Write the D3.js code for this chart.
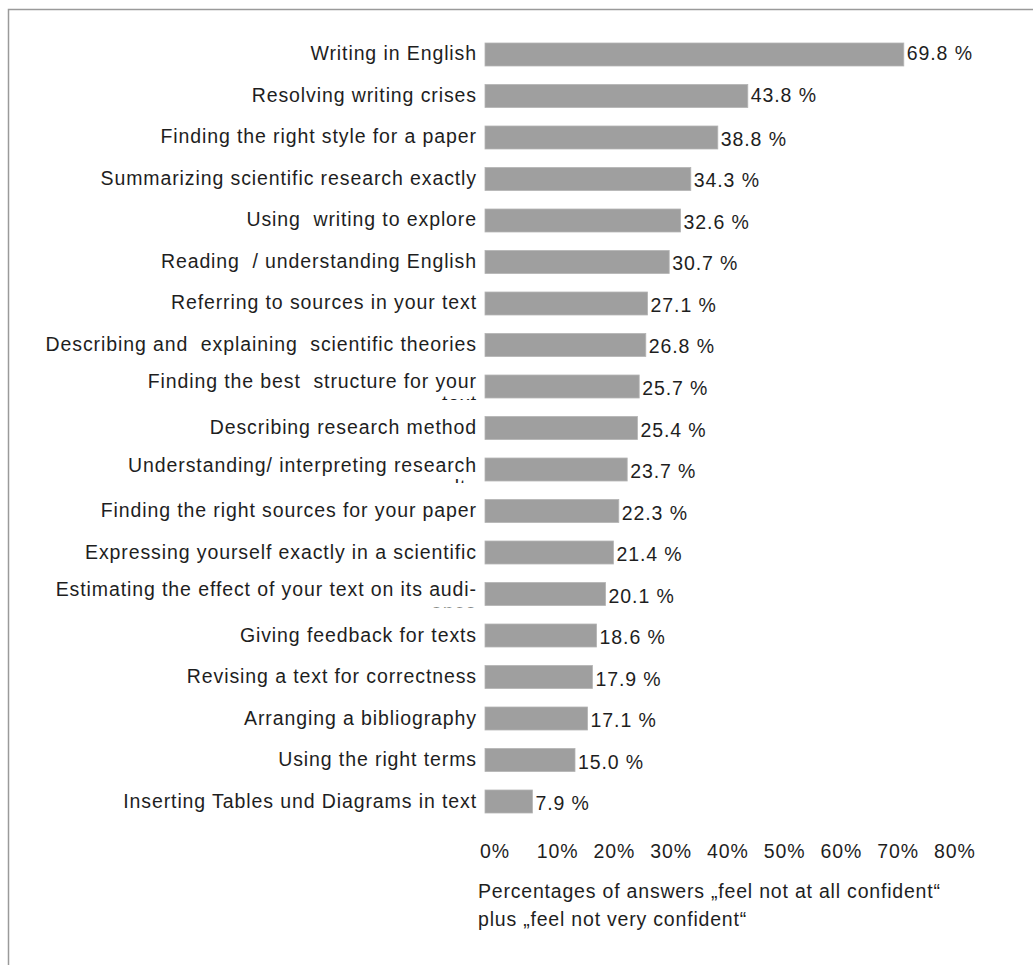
<!DOCTYPE html>
<html>
<head>
<meta charset="utf-8">
<script src="https://cdn.jsdelivr.net/npm/d3@7"></script>
<style>
  body { margin: 0; background: #fff; }
  text { font-family: "Liberation Sans", Arial, sans-serif; fill: #1e1e1e; white-space: pre; }
</style>
</head>
<body>
<svg id="chart" width="1033" height="965"></svg>
<script>
// topics (second line of a label is clipped away in the original, only its top shows)
var topics = [
  "Writing in English",
  "Resolving writing crises",
  "Finding the right style for a paper",
  "Summarizing scientific research exactly",
  "Using  writing to explore",
  "Reading  / understanding English",
  "Referring to sources in your text",
  "Describing and  explaining  scientific theories",
  "Finding the best  structure for your",
  "Describing research method",
  "Understanding/ interpreting research",
  "Finding the right sources for your paper",
  "Expressing yourself exactly in a scientific",
  "Estimating the effect of your text on its audi-",
  "Giving feedback for texts",
  "Revising a text for correctness",
  "Arranging a bibliography",
  "Using the right terms",
  "Inserting Tables und Diagrams in text"
];
var secondLines = ["", "", "", "", "", "", "", "", "text", "", "results", "", "", "ence", "", "", "", "", ""];
var percents = [69.8, 43.8, 38.8, 34.3, 32.6, 30.7, 27.1, 26.8, 25.7, 25.4, 23.7, 22.3, 21.4, 20.1, 18.6, 17.9, 17.1, 15.0, 7.9];
var tickValues = [0, 10, 20, 30, 40, 50, 60, 70, 80];
var captionLines = ["Percentages of answers \u201efeel not at all confident\u201c", "plus \u201efeel not very confident\u201c"];

var svg = d3.select("#chart");

// frame on top and left
svg.append("path")
  .attr("d", "M8.5,965V9.5H1033")
  .attr("fill", "none")
  .attr("stroke", "#9a9a9a")
  .attr("stroke-width", 1.5);

var x = d3.scaleLinear().domain([0, 80]).range([485, 965]);
// tick labels in the source are not aligned with the bars
var xTick = d3.scaleLinear().domain([0, 80]).range([480, 934]);
var y = d3.scaleBand().domain(d3.range(topics.length)).range([43, 813]).paddingInner(0.446).paddingOuter(0);

var data = topics.map(function(t, i) {
  return { name: t, second: secondLines[i], v: percents[i], i: i };
});

var defs = svg.append("defs");
defs.selectAll("clipPath").data(data).enter().append("clipPath")
  .attr("id", function(d) { return "clip" + d.i; })
  .append("rect")
  .attr("x", 0)
  .attr("y", function(d) { return y(d.i) - 14; })
  .attr("width", 480)
  .attr("height", function(d) { return y.bandwidth() + 14 + 2; });

var fs = "19.5px", ls = "0.9px";

svg.append("g").selectAll("rect").data(data).enter().append("rect")
  .attr("x", x(0))
  .attr("y", function(d) { return y(d.i); })
  .attr("width", function(d) { return x(d.v) - x(0); })
  .attr("height", y.bandwidth())
  .attr("fill", "#9f9f9f")
  .attr("stroke", "#b4b4b4")
  .attr("stroke-width", 0.8);

var labels = svg.append("g").selectAll("text").data(data).enter().append("text")
  .attr("clip-path", function(d) { return "url(#clip" + d.i + ")"; })
  .attr("text-anchor", "end")
  .style("font-size", fs)
  .style("letter-spacing", ls);

labels.append("tspan")
  .attr("x", 477)
  .attr("y", function(d) { return y(d.i) + y.bandwidth() / 2 + (d.second ? 2 : 6); })
  .text(function(d) { return d.name; });

labels.filter(function(d) { return d.second; }).append("tspan")
  .attr("x", 477)
  .attr("dy", 22)
  .text(function(d) { return d.second; });

svg.append("g").selectAll("text").data(data).enter().append("text")
  .attr("x", function(d) { return x(d.v) + 3; })
  .attr("y", function(d) { return y(d.i) + y.bandwidth() / 2 + (d.i < 2 ? 6 : 8.5); })
  .style("font-size", fs)
  .style("letter-spacing", ls)
  .text(function(d) { return d.v.toFixed(1) + " %"; });

svg.append("g").selectAll("text").data(tickValues).enter().append("text")
  .attr("x", function(d) { return xTick(d); })
  .attr("y", 858)
  .style("font-size", fs)
  .style("letter-spacing", ls)
  .text(function(d) { return d + "%"; });

svg.append("g").selectAll("text").data(captionLines).enter().append("text")
  .attr("x", 478)
  .attr("y", function(d, i) { return 898 + i * 28; })
  .style("font-size", fs)
  .style("letter-spacing", "0.8px")
  .text(function(d) { return d; });
</script>
</body>
</html>
